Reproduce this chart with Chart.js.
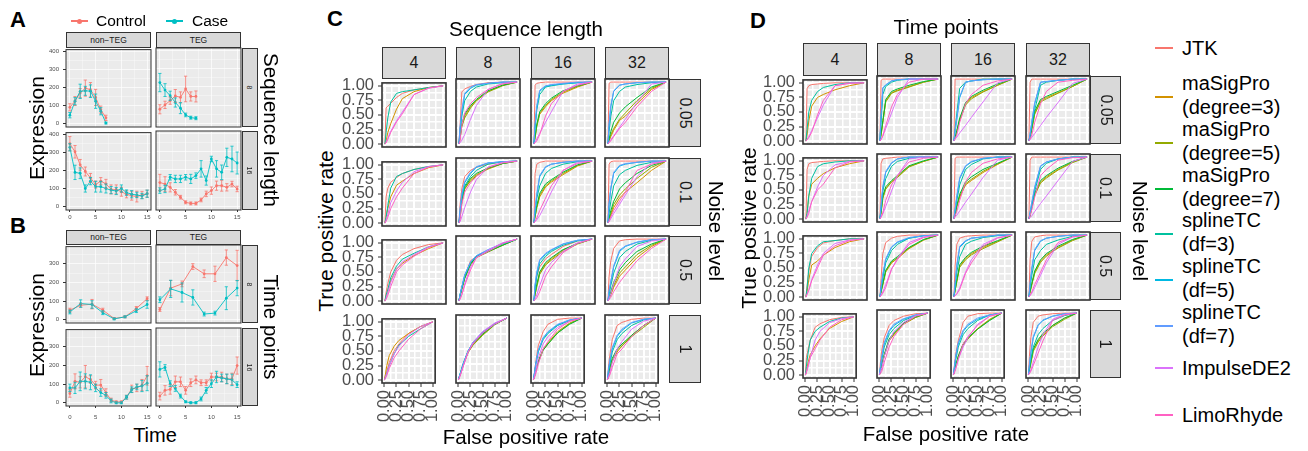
<!DOCTYPE html>
<html>
<head>
<meta charset="utf-8">
<title>Expression profiles and ROC curves</title>
<script src="https://cdn.jsdelivr.net/npm/chart.js@4.4.1/dist/chart.umd.min.js"></script>
<style>
  html, body { margin: 0; padding: 0; background: #ffffff; }
  body { position: relative; width: 1308px; height: 451px; overflow: hidden; font-family: "Liberation Sans", Arial, Helvetica, sans-serif; color: #000; }
  canvas { position: absolute; }
  .txt { position: absolute; white-space: nowrap; line-height: 1; }
  .strip { position: absolute; box-sizing: border-box; background: #d9d9d9; border: 1px solid #333; color: #1a1a1a; display: flex; align-items: center; justify-content: center; white-space: nowrap; line-height: 1; }
  .swatch { position: absolute; height: 2px; }
  .dot { position: absolute; width: 5px; height: 5px; border-radius: 50%; }
</style>
</head>
<body>
<script>
// ---------- data: panel A (sequence length) ----------
const aTime8 = [0, 1, 2, 3, 4, 5, 6, 7];
const aTime16 = [0, 1, 2, 3, 4, 5, 6, 7, 8, 9, 10, 11, 12, 13, 14, 15];

const aNonTeg8Control = [90, 125, 170, 197, 188, 145, 77, 31];
const aNonTeg8ControlErr = [20, 25, 25, 45, 40, 45, 20, 15];
const aNonTeg8Case = [46, 124, 179, 182, 180, 124, 68, 2];
const aNonTeg8CaseErr = [15, 20, 40, 25, 35, 40, 20, 5];

const aTeg8Control = [77, 101, 124, 150, 142, 188, 147, 147];
const aTeg8ControlErr = [25, 20, 20, 35, 30, 70, 25, 30];
const aTeg8Case = [223, 182, 151, 114, 83, 46, 31, 28];
const aTeg8CaseErr = [50, 35, 25, 25, 30, 10, 8, 8];

const aNonTeg16Control = [350, 305, 232, 195, 159, 122, 141, 126, 95, 95, 82, 68, 60, 55, 64, 71];
const aNonTeg16ControlErr = [40, 35, 30, 25, 25, 20, 20, 25, 25, 25, 25, 20, 25, 30, 20, 20];
const aNonTeg16Case = [330, 190, 185, 100, 141, 110, 110, 100, 91, 86, 100, 77, 68, 64, 58, 71];
const aNonTeg16CaseErr = [20, 40, 30, 20, 20, 30, 30, 25, 20, 20, 20, 15, 20, 15, 15, 20];

const aTeg16Control = [130, 122, 104, 77, 50, 22, 16, 16, 35, 68, 86, 113, 113, 104, 122, 95];
const aTeg16ControlErr = [45, 40, 25, 15, 10, 8, 8, 8, 10, 15, 20, 25, 30, 20, 15, 15];
const aTeg16Case = [86, 95, 159, 150, 150, 159, 150, 168, 205, 141, 259, 205, 186, 268, 259, 237];
const aTeg16CaseErr = [15, 20, 15, 20, 20, 15, 25, 15, 45, 25, 15, 45, 40, 50, 70, 60];

// ---------- data: panel B (time points) ----------
const bTime8 = [0, 2.1, 4.3, 6.4, 8.6, 10.7, 12.9, 15];
const bTime16 = [0, 1, 2, 3, 4, 5, 6, 7, 8, 9, 10, 11, 12, 13, 14, 15];

const bNonTeg8Control = [52, 78, 84, 52, 7, 16, 61, 113];
const bNonTeg8ControlErr = [10, 10, 25, 10, 5, 5, 10, 10];
const bNonTeg8Case = [42, 87, 82, 38, 5, 16, 49, 82];
const bNonTeg8CaseErr = [10, 20, 20, 10, 5, 5, 10, 20];

const bTeg8Control = [54, 166, 188, 279, 241, 241, 326, 284];
const bTeg8ControlErr = [10, 40, 15, 15, 20, 40, 40, 80];
const bTeg8Case = [105, 162, 143, 117, 30, 35, 113, 166];
const bTeg8CaseErr = [15, 45, 50, 40, 10, 10, 60, 40];

const bNonTeg16Control = [50, 115, 110, 140, 125, 95, 95, 55, 15, 5, 5, 30, 75, 80, 95, 145];
const bNonTeg16ControlErr = [20, 40, 30, 60, 20, 20, 30, 20, 10, 5, 5, 10, 20, 20, 30, 50];
const bNonTeg16Case = [80, 80, 115, 115, 110, 80, 55, 40, 10, 0, 0, 30, 70, 85, 90, 105];
const bNonTeg16CaseErr = [20, 30, 50, 40, 40, 20, 20, 15, 10, 5, 5, 10, 15, 15, 30, 40];

const bTeg16Control = [35, 65, 70, 110, 110, 65, 105, 120, 105, 105, 135, 135, 135, 125, 125, 195];
const bTeg16ControlErr = [20, 25, 25, 30, 25, 20, 20, 20, 15, 15, 20, 20, 25, 25, 30, 45];
const bTeg16Case = [175, 185, 100, 75, 35, 5, 0, 0, 20, 65, 100, 135, 130, 125, 120, 95];
const bTeg16CaseErr = [40, 15, 15, 15, 10, 5, 5, 5, 10, 15, 20, 30, 20, 25, 30, 15];

// ---------- data: panels C and D (ROC curves) ----------
const facetSizes = ['4', '8', '16', '32'];
const noiseLevels = ['0.05', '0.1', '0.5', '1'];
const methods = ['JTK', 'maSigPro\n(degree=3)', 'maSigPro\n(degree=5)', 'maSigPro\n(degree=7)',
  'splineTC\n(df=3)', 'splineTC\n(df=5)', 'splineTC\n(df=7)', 'ImpulseDE2', 'LimoRhyde'];
const methodColors = ['#F8766D', '#D39200', '#93AA00', '#00BA38', '#00C19F', '#00B9E3', '#619CFF', '#DB72FB', '#FF61C3'];
const rocFpr = [0, 0.02, 0.05, 0.1, 0.2, 0.3, 0.5, 0.75, 1];
const rocGrid = [0, 0.125, 0.25, 0.375, 0.5, 0.625, 0.75, 0.875, 1];

// each row: one panel per facet size; each panel: TPR per method (order of `methods`), null = not fitted
const seqNoise005 = [
  [[0,.62,.65,.7,.8,.87,.93,.97,1], [0,.05,.2,.35,.6,.78,.9,.97,1], null, null,
   [0,.2,.45,.72,.87,.9,.93,.97,1], null, null, [0,.03,.1,.22,.4,.55,.85,.96,1], [0,.02,.08,.2,.38,.52,.85,.96,1]],
  [[0,.3,.84,.89,.93,.96,.99,1,1], [0,.08,.3,.45,.6,.7,.85,.95,1], [0,.1,.28,.42,.58,.7,.84,.94,1], [0,.12,.32,.48,.62,.72,.86,.95,1],
   [0,.2,.45,.7,.85,.92,.97,.99,1], [0,.25,.5,.8,.9,.95,.98,1,1], [0,.28,.55,.82,.92,.96,.98,1,1], [0,.02,.06,.15,.4,.62,.88,.98,1], [0,.05,.3,.5,.65,.75,.88,.97,1]],
  [[0,.95,.98,.99,1,1,1,1,1], [0,.1,.3,.48,.6,.7,.82,.92,1], [0,.1,.28,.5,.62,.72,.84,.93,1], [0,.12,.32,.52,.65,.74,.86,.94,1],
   [0,.25,.55,.8,.92,.94,.97,.99,1], [0,.3,.6,.85,.93,.95,.97,.99,1], [0,.32,.62,.87,.94,.96,.98,1,1], [0,.03,.08,.17,.35,.52,.85,.97,1], [0,.02,.05,.15,.45,.65,.85,.95,1]],
  [[0,.98,1,1,1,1,1,1,1], [0,.05,.12,.22,.38,.45,.65,.88,1], [0,.05,.15,.25,.4,.5,.7,.9,1], [0,.08,.2,.35,.5,.6,.75,.92,1],
   [0,.2,.45,.7,.85,.92,.96,.99,1], [0,.3,.6,.85,.95,.97,.99,1,1], [0,.32,.62,.86,.95,.97,.99,1,1], [0,.03,.07,.13,.27,.4,.67,.97,1], [0,.02,.05,.12,.25,.35,.6,.85,1]]
];
const seqNoise01 = [
  [[0,.45,.6,.7,.78,.85,.92,.97,1], [0,.1,.25,.45,.65,.72,.85,.95,1], null, null,
   [0,.1,.3,.6,.8,.85,.92,.97,1], null, null, [0,.05,.15,.35,.55,.7,.88,.97,1], [0,.03,.1,.25,.45,.6,.85,.96,1]],
  [[0,.3,.55,.75,.85,.9,.95,.99,1], [0,.1,.33,.55,.7,.78,.87,.96,1], [0,.1,.35,.55,.68,.76,.88,.96,1], [0,.12,.37,.58,.72,.8,.89,.96,1],
   [0,.15,.4,.6,.75,.85,.95,.99,1], [0,.2,.45,.65,.8,.9,.97,.99,1], [0,.22,.47,.67,.82,.91,.97,.99,1], [0,.02,.1,.25,.5,.7,.9,.98,1], [0,.05,.3,.5,.65,.75,.9,.97,1]],
  [[0,.8,.95,.98,1,1,1,1,1], [0,.1,.25,.42,.58,.66,.78,.92,1], [0,.1,.25,.45,.6,.68,.8,.93,1], [0,.12,.28,.48,.63,.7,.82,.94,1],
   [0,.15,.4,.6,.8,.88,.95,.99,1], [0,.2,.45,.75,.9,.95,.98,1,1], [0,.22,.48,.77,.91,.95,.98,1,1], [0,.02,.05,.12,.3,.5,.85,.98,1], [0,.03,.08,.2,.4,.6,.85,.96,1]],
  [[0,.95,.99,1,1,1,1,1,1], [0,.05,.12,.25,.4,.5,.65,.85,1], [0,.05,.15,.3,.45,.55,.72,.9,1], [0,.08,.2,.35,.55,.65,.8,.93,1],
   [0,.15,.35,.6,.78,.85,.93,.98,1], [0,.3,.55,.8,.92,.95,.98,1,1], [0,.32,.57,.82,.93,.96,.98,1,1], [0,.02,.07,.15,.3,.45,.75,.97,1], [0,.03,.1,.2,.35,.5,.85,.95,1]]
];
const seqNoise05 = [
  [[0,.15,.3,.5,.7,.8,.9,.97,1], [0,.08,.18,.35,.55,.65,.78,.9,1], null, null,
   [0,.1,.2,.4,.6,.72,.82,.93,1], null, null, [0,.05,.15,.32,.55,.67,.8,.93,1], [0,.03,.1,.25,.5,.62,.77,.92,1]],
  [[0,.1,.2,.4,.65,.72,.82,.93,1], [0,.08,.2,.38,.6,.72,.8,.9,1], [0,.08,.18,.36,.58,.7,.79,.9,1], [0,.09,.2,.37,.6,.71,.8,.9,1],
   [0,.1,.22,.4,.62,.72,.82,.92,1], [0,.1,.22,.42,.62,.73,.82,.93,1], [0,.1,.23,.42,.63,.73,.83,.93,1], [0,.03,.1,.28,.55,.7,.82,.94,1], [0,.03,.1,.25,.5,.7,.8,.93,1]],
  [[0,.2,.4,.55,.68,.75,.88,.97,1], [0,.1,.25,.45,.6,.68,.82,.93,1], [0,.1,.23,.43,.58,.66,.8,.92,1], [0,.12,.27,.47,.62,.7,.83,.93,1],
   [0,.2,.4,.6,.72,.8,.9,.97,1], [0,.25,.45,.65,.75,.82,.92,.98,1], [0,.27,.47,.67,.77,.83,.92,.98,1], [0,.03,.1,.25,.5,.62,.8,.94,1], [0,.02,.05,.15,.4,.55,.78,.93,1]],
  [[0,.4,.65,.85,.97,.99,1,1,1], [0,.04,.1,.22,.4,.5,.7,.88,1], [0,.04,.12,.25,.45,.55,.75,.9,1], [0,.05,.15,.3,.5,.62,.8,.92,1],
   [0,.1,.25,.45,.7,.8,.92,.98,1], [0,.15,.3,.55,.8,.88,.95,.99,1], [0,.17,.32,.57,.82,.89,.95,.99,1], [0,.04,.12,.28,.55,.68,.88,.97,1], [0,.02,.06,.15,.3,.42,.65,.85,1]]
];
const seqNoise1 = [
  [[0,.08,.15,.3,.5,.62,.8,.92,1], [0,.1,.25,.42,.58,.68,.8,.92,1], null, null,
   [0,.05,.12,.25,.45,.6,.75,.88,1], null, null, [0,.05,.12,.25,.45,.58,.78,.92,1], [0,.03,.08,.2,.38,.5,.7,.88,1]],
  [[0,.05,.12,.25,.45,.58,.75,.9,1], [0,.05,.12,.25,.45,.57,.73,.9,1], [0,.05,.11,.24,.44,.56,.72,.89,1], [0,.05,.12,.25,.46,.58,.74,.9,1],
   [0,.06,.14,.27,.47,.6,.76,.9,1], [0,.06,.13,.26,.46,.6,.77,.91,1], [0,.06,.13,.26,.47,.61,.78,.91,1], [0,.04,.1,.22,.45,.6,.78,.92,1], [0,.03,.1,.22,.45,.58,.76,.9,1]],
  [[0,.1,.3,.55,.78,.9,.98,1,1], [0,.05,.15,.3,.5,.6,.78,.92,1], [0,.05,.14,.28,.48,.58,.76,.91,1], [0,.06,.16,.3,.48,.58,.76,.9,1],
   [0,.1,.25,.45,.65,.75,.88,.96,1], [0,.1,.26,.47,.67,.77,.89,.97,1], [0,.11,.27,.48,.68,.78,.9,.97,1], [0,.05,.15,.35,.58,.7,.85,.95,1], [0,.03,.1,.25,.5,.62,.82,.95,1]],
  [[0,.2,.4,.65,.88,.93,.98,1,1], [0,.05,.15,.3,.45,.55,.72,.88,1], [0,.06,.18,.32,.48,.55,.7,.85,1], [0,.08,.2,.35,.5,.58,.72,.88,1],
   [0,.1,.25,.45,.65,.75,.88,.97,1], [0,.15,.3,.5,.7,.8,.92,.98,1], [0,.16,.32,.52,.72,.82,.93,.98,1], [0,.05,.12,.28,.5,.62,.82,.95,1], [0,.03,.08,.2,.42,.5,.7,.88,1]]
];

const timeNoise005 = [
  [[0,.9,.95,.97,.98,.99,1,1,1], [0,.1,.35,.6,.75,.8,.88,.95,1], null, null,
   [0,.2,.5,.7,.85,.92,.97,1,1], null, null, [0,.03,.08,.18,.4,.62,.95,1,1], [0,.02,.06,.15,.45,.7,.95,.99,1]],
  [[0,.98,1,1,1,1,1,1,1], [0,.1,.3,.65,.78,.82,.88,.95,1], [0,.1,.3,.63,.77,.81,.87,.95,1], [0,.12,.33,.67,.8,.84,.9,.96,1],
   [0,.3,.75,.88,.95,.98,1,1,1], [0,.4,.85,.9,.97,.99,1,1,1], [0,.42,.86,.91,.97,.99,1,1,1], [0,.03,.08,.2,.45,.7,1,1,1], [0,.02,.08,.25,.55,.75,.95,1,1]],
  [[0,1,1,1,1,1,1,1,1], [0,.05,.15,.35,.6,.7,.8,.9,1], [0,.05,.15,.33,.58,.68,.79,.9,1], [0,.06,.17,.37,.62,.72,.82,.92,1],
   [0,.2,.45,.85,.95,.97,1,1,1], [0,.15,.35,.7,.95,.97,.99,1,1], [0,.16,.37,.72,.95,.97,.99,1,1], [0,.03,.06,.13,.25,.38,.63,.94,1], [0,.03,.1,.3,.6,.75,.9,.97,1]],
  [[0,.95,1,1,1,1,1,1,1], [0,.05,.2,.45,.65,.7,.78,.88,1], [0,.05,.18,.43,.63,.68,.77,.88,1], [0,.06,.22,.48,.67,.72,.8,.9,1],
   [0,.08,.25,.5,.9,.95,.98,1,1], [0,.1,.3,.6,.95,.96,.98,1,1], [0,.11,.32,.62,.95,.96,.98,1,1], [0,.02,.06,.12,.25,.38,.62,.93,1], [0,.03,.1,.3,.6,.8,.95,.98,1]]
];
const timeNoise01 = [
  [[0,.85,.95,.97,.98,.99,1,1,1], [0,.1,.4,.6,.7,.78,.88,.95,1], null, null,
   [0,.1,.4,.7,.9,.95,.98,1,1], null, null, [0,.05,.15,.3,.55,.75,.93,.99,1], [0,.03,.1,.3,.5,.6,.88,.98,1]],
  [[0,.9,.97,.98,.99,1,1,1,1], [0,.1,.35,.5,.6,.68,.85,.93,1], [0,.1,.33,.48,.6,.67,.84,.93,1], [0,.12,.37,.52,.62,.7,.86,.94,1],
   [0,.15,.45,.65,.85,.93,.98,1,1], [0,.2,.5,.75,.9,.97,1,1,1], [0,.22,.52,.77,.91,.97,1,1,1], [0,.03,.08,.2,.45,.7,.97,1,1], [0,.03,.1,.3,.55,.7,.92,.98,1]],
  [[0,.98,1,1,1,1,1,1,1], [0,.05,.2,.35,.55,.62,.75,.88,1], [0,.05,.2,.37,.57,.64,.77,.89,1], [0,.06,.22,.4,.6,.68,.8,.9,1],
   [0,.12,.3,.55,.8,.88,.97,1,1], [0,.15,.35,.65,.85,.92,.98,1,1], [0,.16,.37,.67,.86,.93,.98,1,1], [0,.03,.06,.13,.27,.4,.67,.95,1], [0,.05,.12,.3,.6,.75,.9,.97,1]],
  [[0,.95,1,1,1,1,1,1,1], [0,.05,.2,.4,.6,.68,.8,.92,1], [0,.05,.18,.38,.58,.66,.79,.91,1], [0,.06,.22,.42,.62,.7,.82,.93,1],
   [0,.08,.2,.45,.8,.9,.97,1,1], [0,.1,.25,.5,.85,.92,.97,1,1], [0,.11,.27,.52,.86,.92,.97,1,1], [0,.02,.05,.12,.25,.37,.62,.93,1], [0,.05,.15,.35,.7,.8,.95,.99,1]]
];
const timeNoise05 = [
  [[0,.2,.45,.7,.85,.93,.97,1,1], [0,.1,.3,.55,.62,.72,.85,.95,1], null, null,
   [0,.15,.5,.75,.88,.95,.97,1,1], null, null, [0,.05,.12,.3,.55,.75,.92,.98,1], [0,.05,.12,.28,.5,.72,.88,.97,1]],
  [[0,.3,.7,.88,.95,.98,1,1,1], [0,.08,.2,.4,.55,.62,.78,.92,1], [0,.08,.2,.42,.56,.63,.79,.92,1], [0,.09,.22,.43,.58,.65,.8,.93,1],
   [0,.12,.3,.55,.75,.85,.95,.99,1], [0,.15,.35,.6,.8,.88,.95,.99,1], [0,.16,.37,.62,.81,.89,.96,.99,1], [0,.03,.08,.2,.45,.62,.88,.97,1], [0,.02,.06,.15,.45,.6,.85,.96,1]],
  [[0,.5,.85,.95,.98,.99,1,1,1], [0,.1,.25,.5,.62,.7,.8,.9,1], [0,.1,.25,.48,.6,.68,.78,.89,1], [0,.11,.27,.52,.64,.72,.82,.91,1],
   [0,.15,.4,.65,.85,.9,.96,.99,1], [0,.2,.5,.8,.9,.95,.97,1,1], [0,.22,.52,.82,.91,.95,.97,1,1], [0,.02,.05,.15,.4,.6,.85,.96,1], [0,.02,.05,.12,.38,.55,.82,.95,1]],
  [[0,.6,.9,.97,.99,1,1,1,1], [0,.08,.2,.4,.58,.68,.8,.92,1], [0,.08,.2,.38,.56,.66,.79,.91,1], [0,.09,.22,.42,.6,.7,.82,.93,1],
   [0,.15,.35,.6,.75,.85,.92,.98,1], [0,.2,.45,.75,.9,.95,.98,1,1], [0,.22,.47,.77,.91,.95,.98,1,1], [0,.02,.06,.15,.35,.55,.85,.97,1], [0,.03,.08,.2,.4,.6,.88,.97,1]]
];
const timeNoise1 = [
  [[0,.3,.42,.6,.82,.88,.95,.99,1], [0,.05,.2,.35,.5,.62,.8,.92,1], null, null,
   [0,.15,.35,.6,.75,.82,.92,.98,1], null, null, [0,.05,.12,.3,.6,.75,.9,.97,1], [0,.05,.15,.3,.45,.6,.82,.95,1]],
  [[0,.2,.4,.6,.8,.88,.95,.99,1], [0,.05,.15,.3,.55,.65,.82,.93,1], [0,.05,.15,.32,.56,.66,.83,.93,1], [0,.06,.17,.33,.58,.68,.84,.94,1],
   [0,.1,.25,.45,.65,.75,.88,.96,1], [0,.12,.28,.5,.7,.8,.9,.97,1], [0,.12,.3,.52,.72,.82,.91,.97,1], [0,.05,.12,.3,.55,.7,.85,.96,1], [0,.02,.06,.2,.45,.62,.82,.95,1]],
  [[0,.15,.35,.55,.85,.95,.99,1,1], [0,.05,.15,.3,.5,.6,.75,.9,1], [0,.05,.14,.28,.48,.58,.74,.89,1], [0,.06,.16,.3,.5,.6,.74,.88,1],
   [0,.1,.25,.45,.65,.75,.88,.97,1], [0,.12,.3,.5,.7,.8,.9,.97,1], [0,.13,.32,.52,.72,.82,.92,.97,1], [0,.05,.12,.25,.45,.6,.82,.95,1], [0,.03,.1,.25,.5,.62,.8,.95,1]],
  [[0,.3,.6,.85,.95,.97,.99,1,1], [0,.08,.2,.4,.55,.65,.8,.92,1], [0,.07,.18,.38,.53,.63,.78,.9,1], [0,.09,.22,.42,.57,.67,.8,.92,1],
   [0,.1,.25,.45,.65,.75,.88,.96,1], [0,.15,.35,.6,.8,.88,.95,.99,1], [0,.16,.37,.62,.81,.89,.95,.99,1], [0,.03,.08,.2,.45,.65,.9,.98,1], [0,.02,.06,.15,.35,.55,.88,.97,1]]
];

// ---------- layout ----------
const CTRL = '#F8766D', CASE = '#00BFC4';
const AB_COLS = [66, 156], AB_W = 85;
const A_ROWS = [48, 131], A_H = 79;
const B_ROWS = [245, 328], B_H = 78;
const AB_ML = 26, AB_MB = 14, AB_PT = 6, AB_PR = 6;

const C_COLS = [382, 456, 531, 605], C_ROWS = [79, 158, 236, 315];
const D_COLS = [803, 877, 951, 1026], D_ROWS = [76, 154, 232, 310];
const ROC_W = 64, ROC_H = 68;
const ROC_ML = 44, ROC_MB = 44, ROC_PT = 10, ROC_PR = 10;

Chart.defaults.font.family = "'Liberation Sans', Arial, sans-serif";

// grey panel background under the grid, dark frame on top
const panelFrame = {
  id: 'panelFrame',
  beforeDraw(chart) {
    const {ctx, chartArea: a} = chart;
    ctx.save();
    ctx.fillStyle = '#ebebeb';
    ctx.fillRect(a.left, a.top, a.width, a.height);
    ctx.restore();
  },
  afterDraw(chart, args, opts) {
    const {ctx, chartArea: a} = chart;
    ctx.save();
    ctx.strokeStyle = '#333333';
    ctx.lineWidth = opts.border || 1;
    ctx.strokeRect(a.left, a.top, a.width, a.height);
    ctx.restore();
  }
};

// vertical error bars read from dataset.errs
const errorBars = {
  id: 'errorBars',
  afterDatasetsDraw(chart) {
    const {ctx} = chart;
    const xs = chart.scales.x, ys = chart.scales.y;
    chart.data.datasets.forEach(ds => {
      if (!ds.errs) return;
      ctx.save();
      ctx.strokeStyle = ds.borderColor;
      ctx.lineWidth = 0.8;
      ds.data.forEach((p, i) => {
        const x = xs.getPixelForValue(p.x);
        const y1 = ys.getPixelForValue(p.y - ds.errs[i]);
        const y2 = ys.getPixelForValue(p.y + ds.errs[i]);
        ctx.beginPath();
        ctx.moveTo(x, y1); ctx.lineTo(x, y2);
        ctx.moveTo(x - 1.6, y1); ctx.lineTo(x + 1.6, y1);
        ctx.moveTo(x - 1.6, y2); ctx.lineTo(x + 1.6, y2);
        ctx.stroke();
      });
      ctx.restore();
    });
  }
};

function addCanvas(x, y, w, h) {
  const c = document.createElement('canvas');
  c.width = w; c.height = h;
  c.style.left = x + 'px'; c.style.top = y + 'px';
  c.style.width = w + 'px'; c.style.height = h + 'px';
  document.body.appendChild(c);
  return c;
}

function axisOpts(o) {
  return {
    type: 'linear', min: o.min, max: o.max, bounds: 'data',
    afterBuildTicks: s => { s.ticks = o.grid.map(v => ({value: v})); },
    afterFit: s => { if (o.horizontal) s.height = o.size; else s.width = o.size; },
    border: {display: false},
    grid: {
      color: '#ffffff',
      lineWidth: ctx => (ctx.tick && o.isMajor(ctx.tick.value)) ? o.majorW : o.minorW,
      drawTicks: o.show,
      tickLength: o.tickLen,
      tickWidth: 1,
      tickColor: ctx => (ctx.tick && o.isMajor(ctx.tick.value)) ? '#333333' : 'rgba(0,0,0,0)'
    },
    ticks: {
      display: o.show, autoSkip: false, padding: o.pad,
      minRotation: o.rot || 0, maxRotation: o.rot || 0,
      color: '#4d4d4d', font: {size: o.font},
      callback: v => o.isMajor(v) ? o.fmt(v) : ''
    }
  };
}

const isQuarter = v => Math.abs(v * 4 - Math.round(v * 4)) < 1e-9;

function rocPanel(left, top, curves, showY, showX) {
  const c = addCanvas(left - ROC_ML, top - ROC_PT, ROC_ML + ROC_W + ROC_PR, ROC_PT + ROC_H + ROC_MB);
  const datasets = [];
  curves.forEach((tpr, i) => {
    if (!tpr) return;
    datasets.push({
      label: methods[i],
      data: tpr.map((y, j) => ({x: rocFpr[j], y: y})),
      borderColor: methodColors[i], backgroundColor: methodColors[i],
      borderWidth: 1, pointRadius: 0, showLine: true, order: curves.length - i
    });
  });
  new Chart(c, {
    type: 'scatter',
    data: {datasets},
    options: {
      responsive: false, animation: false, devicePixelRatio: 1,
      layout: {autoPadding: false, padding: {top: ROC_PT, right: ROC_PR, bottom: 0, left: 0}},
      plugins: {legend: {display: false}, tooltip: {enabled: false}, panelFrame: {border: 1.6}},
      scales: {
        x: axisOpts({min: -0.05, max: 1.05, grid: rocGrid, isMajor: isQuarter, fmt: v => v.toFixed(2),
          horizontal: true, size: ROC_MB, show: showX, tickLen: 4, pad: 3, rot: 90, font: 16.5, majorW: 2, minorW: 1.5}),
        y: axisOpts({min: -0.05, max: 1.05, grid: rocGrid, isMajor: isQuarter, fmt: v => v.toFixed(2),
          horizontal: false, size: ROC_ML, show: showY, tickLen: 4, pad: 4, font: 16.5, majorW: 2, minorW: 1.5})
      }
    },
    plugins: [panelFrame]
  });
}

function exprPanel(left, top, h, xs, ctrl, ctrlErr, cas, casErr, yMin, yMax, yGrid, showY, showX, xPad) {
  const c = addCanvas(left - AB_ML, top - AB_PT, AB_ML + AB_W + AB_PR, AB_PT + h + AB_MB);
  const mk = (vals, errs, color, lbl, ord) => ({
    label: lbl, data: vals.map((v, i) => ({x: xs[i], y: v})), errs: errs,
    borderColor: color, backgroundColor: color, borderWidth: 0.9,
    pointRadius: 1.4, pointBorderWidth: 0, showLine: true, order: ord
  });
  new Chart(c, {
    type: 'scatter',
    data: {datasets: [mk(ctrl, ctrlErr, CTRL, 'Control', 1), mk(cas, casErr, CASE, 'Case', 0)]},
    options: {
      responsive: false, animation: false, devicePixelRatio: 1,
      layout: {autoPadding: false, padding: {top: AB_PT, right: AB_PR, bottom: 0, left: 0}},
      plugins: {legend: {display: false}, tooltip: {enabled: false}, panelFrame: {border: 1}},
      scales: {
        x: axisOpts({min: -0.75, max: 15.75, grid: [0, 2.5, 5, 7.5, 10, 12.5, 15], isMajor: v => v % 5 === 0, fmt: v => String(v),
          horizontal: true, size: AB_MB, show: showX, tickLen: 2, pad: xPad, font: 6, majorW: 0.7, minorW: 0.35}),
        y: axisOpts({min: yMin, max: yMax, grid: yGrid, isMajor: v => v % 100 === 0, fmt: v => String(v),
          horizontal: false, size: AB_ML, show: showY, tickLen: 3, pad: 4, font: 6, majorW: 0.7, minorW: 0.35})
      }
    },
    plugins: [panelFrame, errorBars]
  });
}

function textAt(str, x, y, size, o = {}) {
  const d = document.createElement('div');
  d.className = 'txt';
  d.textContent = str;
  d.style.left = x + 'px';
  d.style.top = y + 'px';
  d.style.fontSize = size + 'px';
  if (o.bold) d.style.fontWeight = 'bold';
  if (o.lh) { d.style.lineHeight = o.lh + 'px'; d.style.whiteSpace = 'pre'; }
  d.style.transform = 'translate(' + (o.left ? '0' : '-50%') + ', -50%) rotate(' + (o.rot || 0) + 'deg)';
  document.body.appendChild(d);
  return d;
}

function strip(str, x, y, w, h, size, vertical, bw) {
  const d = document.createElement('div');
  d.className = 'strip';
  d.style.left = x + 'px'; d.style.top = y + 'px';
  d.style.width = w + 'px'; d.style.height = h + 'px';
  d.style.fontSize = size + 'px'; d.style.borderWidth = bw + 'px';
  const s = document.createElement('span');
  s.textContent = str;
  s.style.display = 'inline-block';
  if (vertical) s.style.transform = 'rotate(90deg)';
  d.appendChild(s);
  document.body.appendChild(d);
}

function swatch(x, y, w, color, dot) {
  const l = document.createElement('div');
  l.className = 'swatch';
  l.style.left = x + 'px'; l.style.top = (y - 1) + 'px'; l.style.width = w + 'px'; l.style.background = color;
  document.body.appendChild(l);
  if (dot) {
    const d = document.createElement('div');
    d.className = 'dot';
    d.style.left = (x + w / 2 - 2.5) + 'px'; d.style.top = (y - 2.5) + 'px'; d.style.background = color;
    document.body.appendChild(d);
  }
}

// ---------- panel A ----------
const aGridY = [0, 50, 100, 150, 200, 250, 300, 350, 400];
exprPanel(AB_COLS[0], A_ROWS[0], A_H, aTime8, aNonTeg8Control, aNonTeg8ControlErr, aNonTeg8Case, aNonTeg8CaseErr, -20, 412, aGridY, true, false, 1);
exprPanel(AB_COLS[1], A_ROWS[0], A_H, aTime8, aTeg8Control, aTeg8ControlErr, aTeg8Case, aTeg8CaseErr, -20, 412, aGridY, false, false, 1);
exprPanel(AB_COLS[0], A_ROWS[1], A_H, aTime16, aNonTeg16Control, aNonTeg16ControlErr, aNonTeg16Case, aNonTeg16CaseErr, -20, 412, aGridY, true, true, 1.5);
exprPanel(AB_COLS[1], A_ROWS[1], A_H, aTime16, aTeg16Control, aTeg16ControlErr, aTeg16Case, aTeg16CaseErr, -20, 412, aGridY, false, true, 1.5);

// ---------- panel B ----------
const bGridY = [0, 50, 100, 150, 200, 250, 300, 350];
exprPanel(AB_COLS[0], B_ROWS[0], B_H, bTime8, bNonTeg8Control, bNonTeg8ControlErr, bNonTeg8Case, bNonTeg8CaseErr, -17, 392, bGridY, true, false, 4);
exprPanel(AB_COLS[1], B_ROWS[0], B_H, bTime8, bTeg8Control, bTeg8ControlErr, bTeg8Case, bTeg8CaseErr, -17, 392, bGridY, false, false, 4);
exprPanel(AB_COLS[0], B_ROWS[1], B_H, bTime16, bNonTeg16Control, bNonTeg16ControlErr, bNonTeg16Case, bNonTeg16CaseErr, -17, 392, bGridY, true, true, 6);
exprPanel(AB_COLS[1], B_ROWS[1], B_H, bTime16, bTeg16Control, bTeg16ControlErr, bTeg16Case, bTeg16CaseErr, -17, 392, bGridY, false, true, 6);

['non\u2212TEG', 'TEG'].forEach((s, i) => {
  strip(s, AB_COLS[i], 32, AB_W, 16, 8.5, false, 1);
  strip(s, AB_COLS[i], 230, AB_W, 15, 8.5, false, 1);
});
['8', '16'].forEach((s, r) => {
  strip(s, 242, A_ROWS[r], 16, A_H, 7, true, 1);
  strip(s, 242, B_ROWS[r], 16, B_H, 7, true, 1);
});

// ---------- panels C and D ----------
[seqNoise005, seqNoise01, seqNoise05, seqNoise1].forEach((row, r) =>
  row.forEach((curves, c) => rocPanel(C_COLS[c], C_ROWS[r], curves, c === 0, r === 3)));
[timeNoise005, timeNoise01, timeNoise05, timeNoise1].forEach((row, r) =>
  row.forEach((curves, c) => rocPanel(D_COLS[c], D_ROWS[r], curves, c === 0, r === 3)));

facetSizes.forEach((s, c) => {
  strip(s, C_COLS[c], 47, ROC_W, C_ROWS[0] - 47, 16, false, 1.6);
  strip(s, D_COLS[c], 43, ROC_W, D_ROWS[0] - 43, 16, false, 1.6);
});
noiseLevels.forEach((s, r) => {
  strip(s, C_COLS[3] + ROC_W, C_ROWS[r], 32, ROC_H, 16, true, 1.6);
  strip(s, D_COLS[3] + ROC_W, D_ROWS[r], 31, ROC_H, 16, true, 1.6);
});

// ---------- titles and labels ----------
textAt('A', 10, 20, 22, {bold: true, left: true});
textAt('B', 10, 226, 22, {bold: true, left: true});
textAt('C', 327, 19, 22, {bold: true, left: true});
textAt('D', 750, 21, 22, {bold: true, left: true});

swatch(71, 21, 17, CTRL, true);
textAt('Control', 96, 21, 15.5, {left: true});
swatch(166, 21, 17, CASE, true);
textAt('Case', 192, 21, 15.5, {left: true});

textAt('Expression', 36, 128, 21, {rot: -90});
textAt('Expression', 36, 325, 21, {rot: -90});
textAt('Sequence length', 271, 130, 20.5, {rot: 90});
textAt('Time points', 271, 327, 20.5, {rot: 90});
textAt('Time', 155, 435, 20);

textAt('Sequence length', 526, 29, 20.5);
textAt('Time points', 946, 27, 20.5);
textAt('False positive rate', 526, 437, 20.5);
textAt('False positive rate', 946, 434, 20.5);
textAt('True positive rate', 325, 231, 21, {rot: -90});
textAt('True positive rate', 748, 228, 21, {rot: -90});
textAt('Noise level', 716, 231, 20.5, {rot: 90});
textAt('Noise level', 1140, 231, 20.5, {rot: 90});

// legend for C and D
const legendY = [48, 97, 143, 189, 234, 280, 326, 368, 415];
methods.forEach((m, i) => {
  swatch(1155, legendY[i], 18, methodColors[i], false);
  const twoLine = m.indexOf('\n') >= 0;
  textAt(m, 1182, twoLine ? legendY[i] - 2 : legendY[i], 20, {left: true, lh: 24});
});
</script>
</body>
</html>
